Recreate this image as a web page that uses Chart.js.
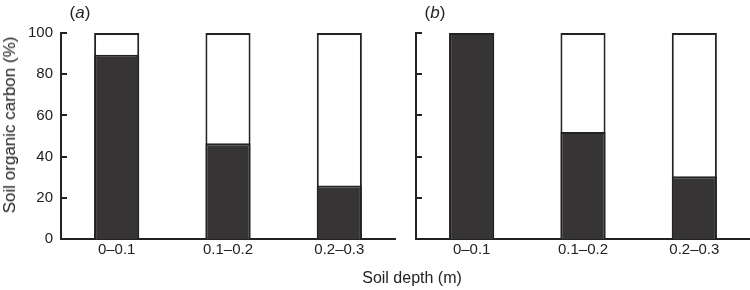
<!DOCTYPE html>
<html>
<head>
<meta charset="utf-8">
<script src="https://cdn.jsdelivr.net/npm/chart.js@4"></script>
<style>
  body { margin: 0; background: #fff; }
  #wrap { position: relative; width: 750px; height: 290px; font-family: "Liberation Sans", Arial, sans-serif; color: #222; }
  canvas { position: absolute; top: 0; }
  .lbl { position: absolute; white-space: nowrap; transform: translate(-50%, -50%); }
</style>
</head>
<body>
<div id="wrap">
  <canvas id="panelA" width="400" height="290" style="left:0"></canvas>
  <canvas id="panelB" width="350" height="290" style="left:400px"></canvas>
  <div class="lbl" style="left:80px; top:13px; font-size:17px">(<i>a</i>)</div>
  <div class="lbl" style="left:435px; top:13px; font-size:17px">(<i>b</i>)</div>
  <div class="lbl" style="left:412px; top:278px; font-size:16px">Soil depth (m)</div>
  <div class="lbl" style="left:10px; top:125px; font-size:17px; transform: translate(-50%, -50%) rotate(-90deg)">Soil organic carbon (%)</div>
</div>
<script>
var depths = ["0\u20130.1", "0.1\u20130.2", "0.2\u20130.3"];
var totalPct = [100, 100, 100];
var panelAValues = [89.5, 46.5, 26];
var panelBValues = [100, 52, 30.5];
var yTicks = [0, 20, 40, 60, 80, 100];

var ink = "#222";
var darkFill = "#363435";

// inward tick marks on the y axis
var innerTicks = {
  id: "innerTicks",
  afterDraw: function (chart) {
    var y = chart.scales.y;
    var ctx = chart.ctx;
    ctx.save();
    ctx.strokeStyle = ink;
    ctx.lineWidth = 2;
    yTicks.forEach(function (v) {
      var py = Math.round(y.getPixelForValue(v));
      ctx.beginPath();
      ctx.moveTo(y.right, py);
      ctx.lineTo(y.right + 6, py);
      ctx.stroke();
    });
    ctx.restore();
  }
};

function makePanel(id, values, axisWidth, padRight, showLabels) {
  return new Chart(document.getElementById(id), {
    type: "bar",
    data: {
      labels: depths,
      datasets: [
        {
          data: values,
          backgroundColor: darkFill,
          borderColor: ink,
          borderWidth: 2,
          borderSkipped: "bottom",
          grouped: false,
          barPercentage: 0.405,
          categoryPercentage: 1
        },
        {
          data: totalPct,
          backgroundColor: "#fff",
          borderColor: ink,
          borderWidth: 2,
          borderSkipped: "bottom",
          grouped: false,
          barPercentage: 0.405,
          categoryPercentage: 1
        }
      ]
    },
    options: {
      responsive: false,
      animation: false,
      layout: { padding: { top: 33, right: padRight, left: 0, bottom: 0 } },
      plugins: { legend: { display: false }, tooltip: { enabled: false } },
      scales: {
        x: {
          grid: { display: false, drawTicks: false },
          border: { display: true, color: ink, width: 2 },
          ticks: { color: ink, font: { family: "Liberation Sans", size: 15 }, padding: 2 },
          afterFit: function (s) { s.height = 51; }
        },
        y: {
          min: 0,
          max: 100,
          grid: { display: false, drawTicks: false },
          border: { display: true, color: ink, width: 2 },
          ticks: {
            display: showLabels,
            stepSize: 20,
            color: ink,
            padding: 8,
            font: { family: "Liberation Sans", size: 15 }
          },
          afterFit: function (s) { s.width = axisWidth; }
        }
      }
    },
    plugins: [innerTicks]
  });
}

makePanel("panelA", panelAValues, 61, 5, true);
makePanel("panelB", panelBValues, 16, 0, false);
</script>
</body>
</html>
